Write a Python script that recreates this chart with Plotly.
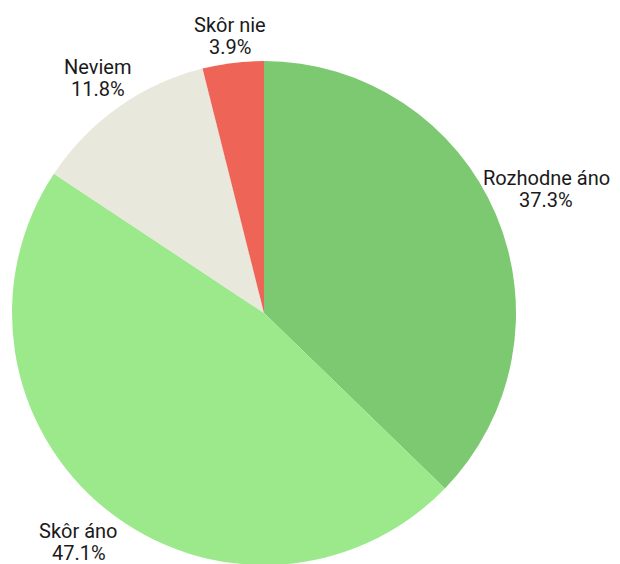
import math
import plotly.graph_objects as go

labels = ["Rozhodne áno", "Skôr áno", "Neviem", "Skôr nie"]
values = [19, 24, 6, 2]
colors = ["#7DC972", "#9BE98B", "#E8E8DC", "#EE6457"]

FONT_SIZE = 20
TEXT_COLOR = "#1a1a1a"
W, H = 620, 564
MARGIN = dict(l=4, r=112, t=53, b=7)
PLOT_W = W - MARGIN["l"] - MARGIN["r"]
PLOT_H = H - MARGIN["t"] - MARGIN["b"]
RADIUS = min(PLOT_W, PLOT_H) / 2
GAP = 2.5          # space between pie edge and label box
LINE_STEP = 22     # distance between the two label lines
BOX_H = 40         # height of a two-line label box
CHAR_W = 0.5 * FONT_SIZE
VIS_RIGHT = 598    # keep label boxes inside the visible area (figure px)
VIS_BOTTOM = 554

fig = go.Figure(go.Pie(
    labels=labels,
    values=values,
    sort=False,
    direction="clockwise",
    rotation=0,
    automargin=False,
    marker=dict(colors=colors, line=dict(width=0)),
    textinfo="none",
    showlegend=False,
    hoverinfo="label+percent",
))

# outside labels placed radially at the middle angle of each slice
cx0 = MARGIN["l"] + PLOT_W / 2
cy0 = MARGIN["t"] + PLOT_H / 2
total = sum(values)
annotations = []
cum = 0
for lab, v in zip(labels, values):
    mid = (cum + v / 2) / total
    cum += v
    theta = 2 * math.pi * mid
    ux, uy = math.sin(theta), -math.cos(theta)   # pixel direction, y down
    box_w = CHAR_W * max(len(lab), 5)
    extent = abs(ux) * box_w / 2 + abs(uy) * BOX_H / 2
    d = RADIUS + GAP + extent
    px = min(cx0 + ux * d, VIS_RIGHT - box_w / 2)
    py = min(cy0 + uy * d, VIS_BOTTOM - BOX_H / 2)
    xp = (px - MARGIN["l"]) / PLOT_W
    yp = 1 - (py - MARGIN["t"]) / PLOT_H
    pct = f"{v / total * 100:.1f}%"
    for txt, off in ((lab, LINE_STEP / 2), (pct, -LINE_STEP / 2)):
        annotations.append(dict(
            x=xp, y=yp + off / PLOT_H, xref="paper", yref="paper",
            text=txt, showarrow=False, xanchor="center", yanchor="middle",
            font=dict(family="Roboto", size=FONT_SIZE, color=TEXT_COLOR),
        ))

fig.update_layout(
    width=W,
    height=H,
    margin=dict(**MARGIN, autoexpand=False),
    paper_bgcolor="white",
    plot_bgcolor="white",
    font=dict(family="Roboto"),
    annotations=annotations,
)

fig.write_html("out.html")
